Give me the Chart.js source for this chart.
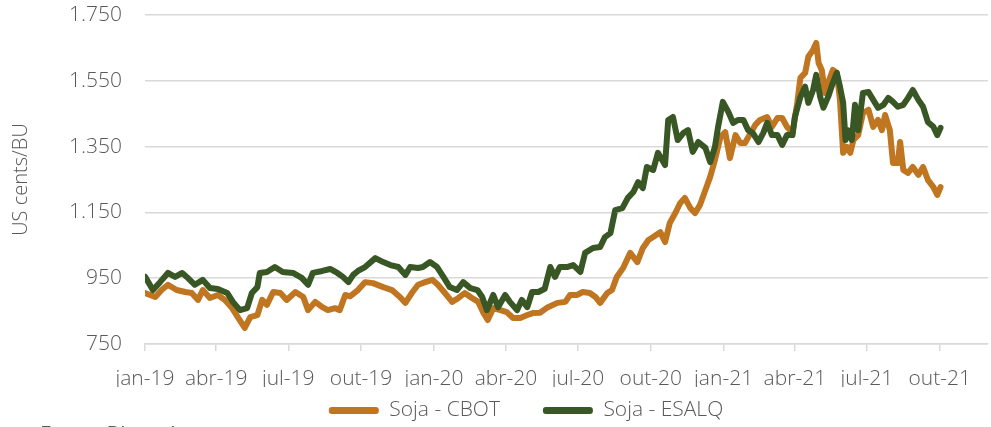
<!DOCTYPE html>
<html lang="pt-BR">
<head>
<meta charset="utf-8">
<title>Soja - CBOT x ESALQ</title>
<script src="https://cdn.jsdelivr.net/npm/chart.js@4.4.1/dist/chart.umd.min.js"></script>
<style>
    html, body { margin: 0; padding: 0; background: #ffffff; overflow: hidden; }
    #wrap { position: relative; width: 991px; height: 427px; overflow: hidden; }
    canvas { display: block; }
    #fonte {
        position: absolute; left: 40px; top: 424px;
        font-family: "Open Sans", sans-serif; font-size: 21px; line-height: 21px;
        color: #595959; white-space: nowrap;
    }
</style>
</head>
<body>
<div id="wrap">
    <canvas id="grafico" width="991" height="427"></canvas>
    <div id="fonte">Fonte: Bloomberg</div>
</div>
<script>
// eixo x: dias corridos desde 01/01/2019
const trimestresDias = [0, 90, 181, 273, 365, 456, 547, 639, 731, 821, 912, 1004];
const rotulosX = ['jan-19', 'abr-19', 'jul-19', 'out-19', 'jan-20', 'abr-20', 'jul-20', 'out-20', 'jan-21', 'abr-21', 'jul-21', 'out-21'];

// Soja - CBOT (US cents/BU)
const cbotDias = [0, 13, 21, 29, 40, 51, 59, 67, 73, 82, 92, 101, 110, 118, 126, 133, 142, 148, 154, 162,
    171, 179, 190, 200, 206, 215, 224, 231, 240, 246, 253, 259, 269, 278, 288, 301, 312, 322, 329, 337,
    345, 354, 363, 370, 379, 388, 396, 404, 413, 421, 427, 433, 440, 449, 457, 465, 474, 483, 490, 499,
    509, 521, 531, 537, 546, 553, 562, 569, 575, 584, 590, 596, 604, 613, 622, 629, 636, 642, 651, 657,
    663, 670, 676, 682, 689, 695, 701, 708, 714, 720, 727, 733, 739, 746, 752, 758, 765, 771, 777, 786,
    792, 799, 805, 811, 818, 824, 828, 834, 838, 844, 848, 851, 855, 859, 863, 869, 874, 878, 882, 887,
    891, 895, 901, 907, 914, 920, 926, 931, 935, 941, 945, 951, 954, 958, 964, 970, 977, 983, 989, 996,
    1001, 1005];
const cbotValores = [905, 893, 914, 930, 914, 908, 905, 884, 914, 890, 899, 884, 859, 829, 799, 832, 838, 884, 869, 908,
    905, 884, 908, 893, 853, 878, 862, 853, 859, 853, 899, 895, 914, 938, 935, 923, 914, 893, 875, 905,
    930, 938, 945, 930, 905, 878, 890, 905, 890, 878, 847, 823, 859, 853, 847, 829, 829, 838, 844, 845,
    862, 875, 878, 899, 899, 908, 905, 893, 875, 905, 914, 954, 981, 1027, 999, 1042, 1066, 1075, 1090, 1060,
    1118, 1148, 1178, 1194, 1163, 1148, 1172, 1218, 1258, 1309, 1379, 1394, 1315, 1385, 1361, 1361, 1391, 1416, 1431, 1440,
    1410, 1437, 1437, 1410, 1391, 1483, 1559, 1574, 1623, 1644, 1665, 1604, 1583, 1513, 1544, 1583, 1574, 1492, 1331, 1349,
    1331, 1370, 1385, 1452, 1462, 1410, 1431, 1400, 1446, 1400, 1300, 1300, 1364, 1279, 1270, 1288, 1264, 1288, 1249, 1227,
    1203, 1227];

// Soja - ESALQ (US cents/BU)
const esalqDias = [0, 10, 19, 29, 38, 47, 54, 63, 73, 82, 92, 104, 111, 120, 129, 135, 142, 145, 154, 164,
    174, 187, 198, 206, 212, 224, 234, 243, 250, 257, 263, 269, 278, 291, 301, 310, 320, 329, 335, 345,
    351, 360, 369, 377, 385, 394, 402, 411, 420, 426, 432, 440, 446, 455, 461, 470, 476, 483, 489, 497,
    505, 512, 518, 524, 533, 541, 550, 556, 566, 575, 581, 588, 594, 603, 610, 617, 623, 629, 634, 642,
    648, 657, 661, 667, 673, 680, 686, 692, 699, 708, 714, 720, 724, 730, 737, 743, 749, 756, 762, 768,
    775, 781, 786, 792, 799, 805, 811, 818, 821, 828, 834, 838, 844, 848, 853, 857, 863, 869, 874, 878,
    882, 885, 888, 893, 897, 901, 907, 914, 920, 926, 933, 939, 945, 951, 958, 964, 970, 977, 983, 989,
    996, 1001, 1005];
const esalqValores = [955, 914, 938, 966, 954, 966, 951, 930, 945, 920, 917, 905, 878, 853, 859, 905, 923, 966, 969, 984,
    969, 966, 951, 930, 966, 972, 978, 966, 954, 938, 960, 972, 984, 1011, 999, 990, 984, 960, 984, 981,
    984, 999, 984, 954, 923, 914, 938, 920, 914, 893, 853, 899, 862, 899, 878, 853, 884, 862, 908, 908,
    918, 984, 954, 984, 984, 990, 969, 1027, 1042, 1045, 1075, 1087, 1157, 1163, 1194, 1212, 1242, 1224, 1288, 1279,
    1331, 1294, 1431, 1440, 1370, 1391, 1400, 1334, 1364, 1346, 1303, 1349, 1410, 1486, 1455, 1422, 1431, 1431, 1400, 1391,
    1364, 1391, 1422, 1385, 1385, 1355, 1385, 1385, 1440, 1501, 1532, 1483, 1522, 1568, 1501, 1468, 1501, 1544, 1574, 1532,
    1483, 1370, 1400, 1370, 1477, 1400, 1513, 1516, 1492, 1468, 1477, 1498, 1486, 1471, 1477, 1498, 1522, 1492, 1471, 1425,
    1410, 1385, 1407];

const corCbot = '#C07520';
const corEsalq = '#395724';
const corTexto = '#595959';
const corGrade = '#D9D9D9';
const fonte = '"Open Sans", sans-serif';

function pontos(dias, valores) {
    return dias.map((d, i) => ({ x: d, y: valores[i] }));
}

// formato brasileiro: 1.750
function formatarMilhar(v) {
    if (v >= 1000) {
        return Math.floor(v / 1000) + '.' + String(v % 1000).padStart(3, '0');
    }
    return String(v);
}

// desloca a legenda para a posição do original
const ajusteLegenda = {
    id: 'ajusteLegenda',
    afterLayout(chart) {
        const lg = chart.legend;
        if (!lg) return;
        const dx = 32;
        lg.left += dx;
        lg.right += dx;
        lg.top = 357;
        lg.bottom = 427;
    }
};

Chart.defaults.font.family = fonte;
Chart.defaults.color = corTexto;

const ctx = document.getElementById('grafico');
new Chart(ctx, {
    type: 'line',
    data: {
        datasets: [{
            label: 'Soja - CBOT',
            data: pontos(cbotDias, cbotValores),
            borderColor: corCbot,
            backgroundColor: corCbot,
            borderWidth: 6,
            order: 1
        }, {
            label: 'Soja - ESALQ',
            data: pontos(esalqDias, esalqValores),
            borderColor: corEsalq,
            backgroundColor: corEsalq,
            borderWidth: 6,
            order: 0
        }]
    },
    options: {
        responsive: false,
        animation: false,
        devicePixelRatio: 1,
        parsing: false,
        elements: {
            point: { radius: 0 },
            line: { tension: 0, borderCapStyle: 'round', borderJoinStyle: 'round' }
        },
        layout: {
            padding: { left: 0, right: 3, top: 15, bottom: 0 }
        },
        plugins: {
            tooltip: { enabled: false },
            legend: {
                position: 'bottom',
                maxHeight: 40,
                labels: {
                    boxWidth: 50,
                    boxHeight: 7,
                    padding: 43,
                    color: corTexto,
                    font: { family: fonte, size: 21, weight: '300' },
                    useBorderRadius: true,
                    borderRadius: 3,
                    generateLabels(chart) {
                        const itens = Chart.defaults.plugins.legend.labels.generateLabels(chart);
                        itens.forEach(item => { item.lineWidth = 0; });
                        return itens.sort((a, b) => a.datasetIndex - b.datasetIndex);
                    }
                }
            }
        },
        scales: {
            x: {
                type: 'linear',
                min: 0,
                max: 1065,
                afterBuildTicks(scale) {
                    scale.ticks = trimestresDias.map(d => ({ value: d }));
                },
                afterFit(scale) {
                    scale.height = 43;
                },
                ticks: {
                    autoSkip: false,
                    maxRotation: 0,
                    padding: 15,
                    color: corTexto,
                    font: { family: fonte, size: 21, weight: '300' },
                    callback(value) {
                        const i = trimestresDias.indexOf(value);
                        return i >= 0 ? rotulosX[i] : '';
                    }
                },
                grid: {
                    drawOnChartArea: false,
                    drawTicks: true,
                    tickLength: 7,
                    color: corGrade,
                    lineWidth: 1.5
                },
                border: {
                    display: true,
                    color: corGrade,
                    width: 1.5
                }
            },
            y: {
                min: 750,
                max: 1750,
                afterBuildTicks(scale) {
                    const t = [];
                    for (let v = 750; v <= 1750; v += 200) t.push({ value: v });
                    scale.ticks = t;
                },
                afterFit(scale) {
                    scale.width = 145;
                    scale.paddingTop = 0;
                    scale.paddingBottom = 0;
                },
                ticks: {
                    padding: 23,
                    color: corTexto,
                    font: { family: fonte, size: 21, weight: '300' },
                    callback(value) {
                        return formatarMilhar(value);
                    }
                },
                title: {
                    display: true,
                    text: 'US cents/BU',
                    color: corTexto,
                    font: { family: fonte, size: 20, weight: '300' },
                    padding: { top: 9, bottom: 0 }
                },
                grid: {
                    drawTicks: false,
                    color: corGrade,
                    lineWidth: 1.5
                },
                border: { display: false }
            }
        }
    },
    plugins: [ajusteLegenda]
});
</script>
</body>
</html>
